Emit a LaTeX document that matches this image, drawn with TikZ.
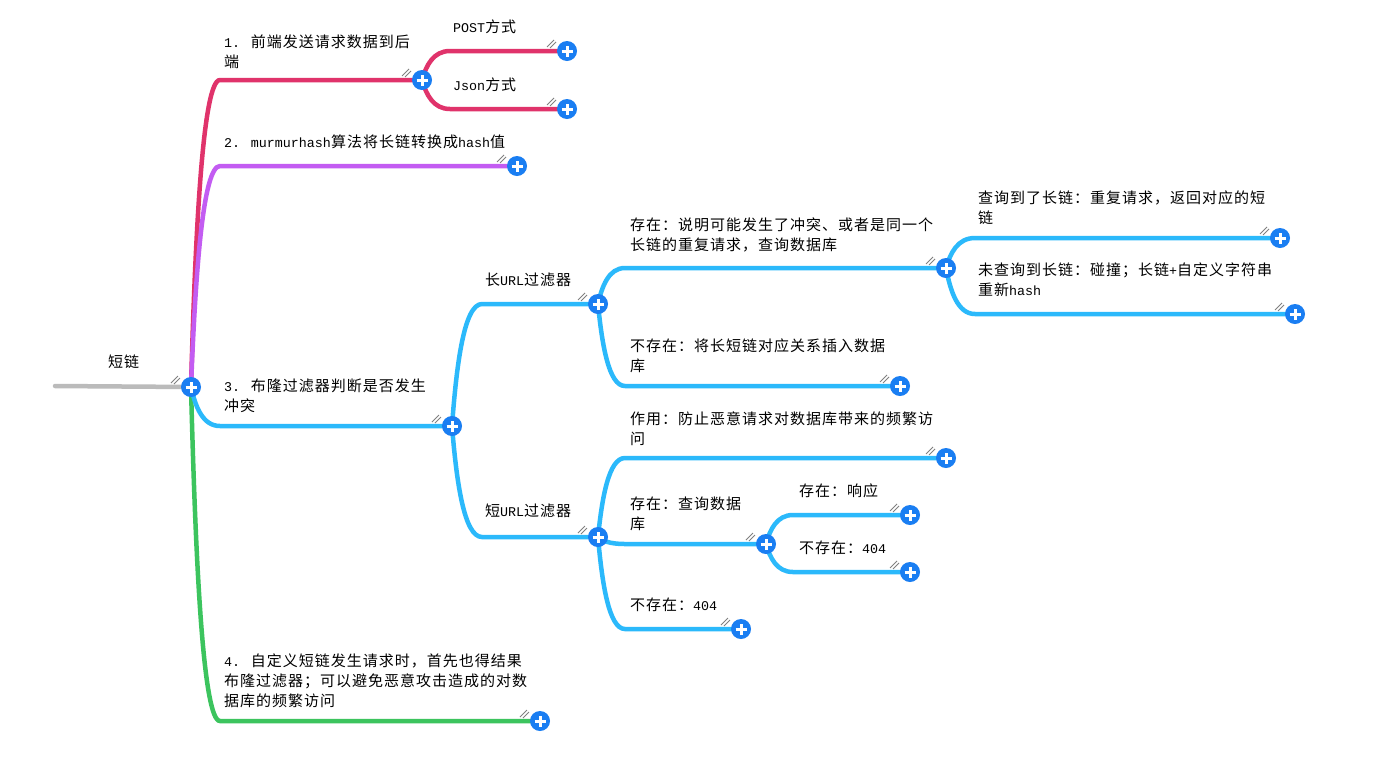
\documentclass[tikz,border=0pt]{standalone}
\usepackage{fontspec}
\setmainfont{Noto Sans CJK SC}[LetterSpace=6.67]
\newfontfamily\lat{Liberation Mono}[Scale=0.89]
\usetikzlibrary{calc}
\definecolor{cred}{HTML}{E0336B}
\definecolor{cpurple}{HTML}{C35CF2}
\definecolor{cblue}{HTML}{2BB9FB}
\definecolor{cgreen}{HTML}{3CC45E}
\definecolor{cgray}{HTML}{BBBBBB}
\definecolor{cbtn}{HTML}{1A7EF2}
\definecolor{cslash}{HTML}{808080}
\pgfdeclarelayer{bg}
\pgfsetlayers{bg,main}
\tikzset{
  txt/.style={anchor=north west, inner sep=0pt, align=left, font=\fontsize{15}{20}\selectfont, text=black},
  btn/.style={circle, fill=cbtn, minimum size=20pt, inner sep=0pt,
    path picture={\draw[white, line width=3pt]
      ([xshift=-5.5pt]path picture bounding box.center) -- ([xshift=5.5pt]path picture bounding box.center)
      ([yshift=-5.5pt]path picture bounding box.center) -- ([yshift=5.5pt]path picture bounding box.center);}},
  branch/.style={line width=4.5pt, line cap=round,
    to path={let \p1=(\tikztostart), \p2=(\tikztotarget) in
      .. controls ({\x1+0.15*#1*1pt},{\y1+0.5*(\y2-\y1)}) and ({\x1+0.4*#1*1pt},\y2) .. ({\x1+#1*1pt},\y2) -- (\p2)}},
  slash/.style={draw=cslash, line width=0.8pt},
}
\begin{document}
\begin{tikzpicture}[x=1pt,y=-1pt]
\useasboundingbox (0,0) rectangle (1383,772);

% buttons
\node[btn] (R) at (191,387) {};
\node[btn] (A1) at (422,80) {};
\node[btn] (A2) at (517,166) {};
\node[btn] (A3) at (452,426) {};
\node[btn] (A4) at (540,721) {};
\node[btn] (B1) at (567,51) {};
\node[btn] (B2) at (567,109) {};
\node[btn] (C1) at (598,304) {};
\node[btn] (C2) at (598,537) {};
\node[btn] (D1) at (946,268) {};
\node[btn] (D2) at (900,386) {};
\node[btn] (E1) at (1280,238) {};
\node[btn] (E2) at (1295,314) {};
\node[btn] (F1) at (946,458) {};
\node[btn] (F2) at (766,544) {};
\node[btn] (F3) at (741,629) {};
\node[btn] (G1) at (910,515) {};
\node[btn] (G2) at (910,572) {};
\coordinate (S) at (55,386);

% slash marks
\foreach \n in {R,A1,A2,A3,A4,B1,B2,C1,C2,D1,D2,E1,E2,F1,F2,F3,G1,G2}{
  \draw[slash] ($(\n)+(-20,-4)$) -- ++(7,-7);
  \draw[slash] ($(\n)+(-17,-3)$) -- ++(6,-6);
}

% background and connectors
\begin{pgfonlayer}{bg}
\fill[white] (0,0) rectangle (1383,772);
\draw[line width=4.5pt, line cap=round, cgray] (S) -- (R.center);
\draw[branch=29, cred] (R.center) to (A1.center);
\draw[branch=29, cpurple] (R.center) to (A2.center);
\draw[branch=29, cgreen] (R.center) to (A4.center);
\draw[branch=29, cblue] (R.center) to (A3.center);
\draw[branch=28, cred] (A1.center) to (B1.center);
\draw[branch=28, cred] (A1.center) to (B2.center);
\draw[branch=30, cblue] (A3.center) to (C1.center);
\draw[branch=30, cblue] (A3.center) to (C2.center);
\draw[branch=27, cblue] (C1.center) to (D1.center);
\draw[branch=27, cblue] (C1.center) to (D2.center);
\draw[branch=29, cblue] (D1.center) to (E1.center);
\draw[branch=29, cblue] (D1.center) to (E2.center);
\draw[branch=27, cblue] (C2.center) to (F1.center);
\draw[branch=27, cblue] (C2.center) to (F2.center);
\draw[branch=27, cblue] (C2.center) to (F3.center);
\draw[branch=27, cblue] (F2.center) to (G1.center);
\draw[branch=27, cblue] (F2.center) to (G2.center);
\end{pgfonlayer}

% texts
\node[txt] (t0) at (108,355) {短链};
\node[txt] (t1) at (224,35) {{\lat 1. }前端发送请求数据到后\\端};
\node[txt] (t11) at (453,20) {{\lat POST}方式};
\node[txt] (t12) at (453,78) {{\lat Json}方式};
\node[txt] (t2) at (224,135) {{\lat 2. murmurhash}算法将长链转换成{\lat hash}值};
\node[txt] (t3) at (224,379) {{\lat 3. }布隆过滤器判断是否发生\\冲突};
\node[txt] (t31) at (485,273) {长{\lat URL}过滤器};
\node[txt] (t32) at (485,504) {短{\lat URL}过滤器};
\node[txt] (t311) at (630,218) {存在：说明可能发生了冲突、或者是同一个\\长链的重复请求，查询数据库};
\node[txt] (t312) at (630,339) {不存在：将长短链对应关系插入数据\\库};
\node[txt] (t3111) at (978,191) {查询到了长链：重复请求，返回对应的短\\链};
\node[txt] (t3112) at (978,263) {未查询到长链：碰撞；长链{\lat +}自定义字符串\\重新{\lat hash}};
\node[txt] (t321) at (630,412) {作用：防止恶意请求对数据库带来的频繁访\\问};
\node[txt] (t322) at (630,497) {存在：查询数据\\库};
\node[txt] (t323) at (630,598) {不存在：{\lat 404}};
\node[txt] (t3221) at (799,484) {存在：响应};
\node[txt] (t3222) at (799,541) {不存在：{\lat 404}};
\node[txt] (t4) at (224,654) {{\lat 4. }自定义短链发生请求时，首先也得结果\\布隆过滤器；可以避免恶意攻击造成的对数\\据库的频繁访问};
\end{tikzpicture}
\end{document}
